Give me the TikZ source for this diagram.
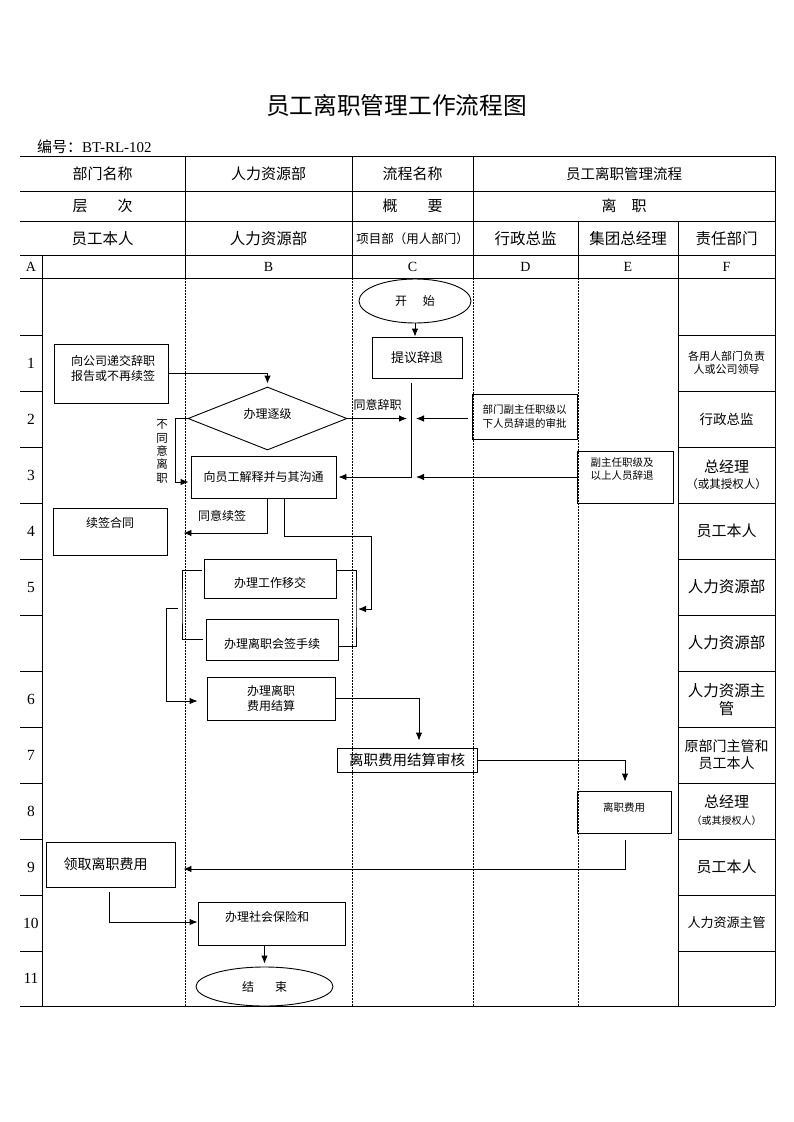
\documentclass[tikz,border=0pt]{standalone}
\usepackage{fontspec}
\setmainfont{Liberation Serif}
\newfontfamily\cjk{Noto Sans CJK SC}
\usetikzlibrary{arrows.meta,shapes.geometric}

\newcommand{\zh}[2]{\fontsize{#1}{#2}\selectfont\cjk}

\begin{document}
\begin{tikzpicture}[x=1pt, y=-1pt, font=\zh{12}{15},
  box/.style={draw, line width=0.9pt, inner sep=0pt, align=center},
  txt/.style={inner sep=0pt, align=center},
  flow/.style={line width=0.9pt, -{Latex[length=8pt, width=6.5pt]}},
  link/.style={line width=0.9pt},
  lane/.style={line width=0.8pt, dash pattern=on 1.5pt off 1.5pt},
  grid/.style={line width=1pt}]
  \fill[white] (0,0) rectangle (793,1122);
  \useasboundingbox (0,0) rectangle (793,1122);

  % title and code
  \node[txt, font=\zh{23.7}{28}] (title) at (396.5,105) {员工离职管理工作流程图};
  \node[txt, anchor=west, font=\fontsize{15}{18}\selectfont] (code) at (37,147) {{\cjk 编号：}BT-RL-102};

  % header table
  \foreach \y in {156,191,221,255,278}
    \draw[grid] (20,\y) -- (775,\y);
  \draw[grid] (185,156) -- (185,278);
  \draw[grid] (352,156) -- (352,278);
  \draw[grid] (473,156) -- (473,278);
  \draw[grid] (578,221) -- (578,278);
  \draw[grid] (42,255) -- (42,1006);
  \draw[grid] (678,221) -- (678,1006);
  \draw[grid] (775,156) -- (775,1006);
  \draw[grid] (20,1006) -- (775,1006);

  \node[txt, font=\zh{15}{18}] (h-dept) at (102.5,173.5) {部门名称};
  \node[txt, font=\zh{15}{18}] (h-hr) at (268.5,173.5) {人力资源部};
  \node[txt, font=\zh{15}{18}] (h-flow) at (412.5,173.5) {流程名称};
  \node[txt, font=\zh{14.5}{18}] (h-name) at (624,173.5) {员工离职管理流程};
  \node[txt, font=\zh{15}{18}] (h-level) at (102.5,206) {层\hspace{2em}次};
  \node[txt, font=\zh{15}{18}] (h-sum) at (412.5,206) {概\hspace{2em}要};
  \node[txt, font=\zh{15}{18}] (h-leave) at (624,206) {离\hspace{1em}职};
  \node[txt, font=\zh{15.5}{18}] (h-self) at (102.5,238.5) {员工本人};
  \node[txt, font=\zh{15.5}{18}] (h-hrdept) at (268.5,238.5) {人力资源部};
  \node[txt, font=\zh{12.5}{15}] (h-proj) at (412.5,238.5) {项目部（用人部门）};
  \node[txt, font=\zh{15.5}{18}] (h-admin) at (525.5,238.5) {行政总监};
  \node[txt, font=\zh{15.5}{18}] (h-gm) at (628,238.5) {集团总经理};
  \node[txt, font=\zh{15.5}{18}] (h-resp) at (726.5,238.5) {责任部门};
  \foreach \c/\x in {A/31,B/268.5,C/412.5,D/525.5,E/628,F/726.5}
    \node[txt, font=\fontsize{14}{16}\selectfont] (col-\c) at (\x,267) {\c};

  % lanes and rows
  \foreach \x in {185,352,473,578}
    \draw[lane] (\x,278) -- (\x,1006);
  \foreach \y in {335,391,447,503,559,615,671,727,783,839,895,951} {
    \draw[grid] (20,\y) -- (42,\y);
    \draw[grid] (678,\y) -- (775,\y);
  }
  \foreach \n/\y in {1/363,2/419,3/475,4/531,5/587,6/699,7/755,8/811,9/867,10/923,11/978.5}
    \node[txt, font=\fontsize{15.5}{18}\selectfont] (row-\n) at (31,\y) {\n};

  % responsible
  \node[txt, font=\zh{11}{13}] (f1) at (726.5,363) {各用人部门负责\\人或公司领导};
  \node[txt, font=\zh{13.5}{16}] (f2) at (726.5,419) {行政总监};
  \node[txt, font=\zh{15}{16}] (f3) at (726.5,475) {总经理\\{\zh{11.5}{16}（或其授权人）}};
  \node[txt, font=\zh{15}{18}] (f4) at (726.5,531) {员工本人};
  \node[txt, font=\zh{15.5}{18}] (f5) at (726.5,587) {人力资源部};
  \node[txt, font=\zh{15.5}{18}] (f6) at (726.5,643) {人力资源部};
  \node[txt, font=\zh{15.5}{18}] (f7) at (726.5,700) {人力资源主\\管};
  \node[txt, font=\zh{14}{17}] (f8) at (726.5,754.5) {原部门主管和\\员工本人};
  \node[txt, font=\zh{15}{17}] (f9) at (726.5,810.5) {总经理\\{\zh{10}{17}（或其授权人）}};
  \node[txt, font=\zh{15}{18}] (f10) at (726.5,867) {员工本人};
  \node[txt, font=\zh{13}{16}] (f11) at (726.5,923) {人力资源主管};

  % flow nodes
  \node[box, ellipse, minimum width=112, minimum height=44] (start) at (415,301) {开\hspace{1.3em}始};
  \node[box, minimum width=90, minimum height=41, font=\zh{13}{16}] (prop) at (417,357.5) {提议辞退};
  \node[box, minimum width=114, minimum height=59,
    label={[txt, xshift=2pt, yshift=5.5pt]center:{向公司递交辞职\\报告或不再续签}}] (submit) at (111,373.5) {};
  \node[box, diamond, aspect=2.5, minimum width=159, minimum height=63,
    label={[txt, yshift=4.5pt]center:办理逐级}] (esc) at (267.5,418.5) {};
  \node[box, minimum width=105, minimum height=45, font=\zh{10.5}{14}] (dapprove) at (524.5,416.5) {部门副主任职级以\\下人员辞退的审批};
  \node[box, minimum width=96, minimum height=52,
    label={[txt, font=\zh{10.5}{13}, xshift=-3pt, yshift=7.5pt]center:{副主任职级及\\以上人员辞退}}] (eapprove) at (625,477) {};
  \node[box, minimum width=145, minimum height=42] (explain) at (263.5,477) {向员工解释并与其沟通};
  \node[box, minimum width=114, minimum height=47,
    label={[txt, yshift=8.5pt]center:续签合同}] (renew) at (110,531.5) {};
  \node[box, minimum width=132, minimum height=39,
    label={[txt, yshift=-4.5pt]center:办理工作移交}] (handover) at (270,578.5) {};
  \node[box, minimum width=132, minimum height=41,
    label={[txt, yshift=-4.5pt]center:办理离职会签手续}] (sign) at (272,639.5) {};
  \node[box, minimum width=128, minimum height=43] (settle) at (271,698.5) {办理离职\\费用结算};
  \node[box, minimum width=140, minimum height=24, font=\zh{14.5}{17}] (audit) at (407,760) {离职费用结算审核};
  \node[box, minimum width=94, minimum height=42,
    label={[txt, font=\zh{10.5}{13}, yshift=5pt]center:离职费用}] (fee) at (624,812) {};
  \node[box, minimum width=129, minimum height=45,
    label={[txt, font=\zh{14}{17}, xshift=-5pt]center:领取离职费用}] (collect) at (110.5,864.5) {};
  \node[box, minimum width=147, minimum height=43,
    label={[txt, xshift=-4.5pt, yshift=6.5pt]center:办理社会保险和}] (social) at (271.5,923.5) {};
  \node[box, ellipse, minimum width=137, minimum height=39] (stop) at (264.5,986.5) {结\hspace{1.75em}束};

  % labels on lines
  \node[txt] (agree) at (377.5,405) {同意辞职};
  \node[txt, font=\zh{11.5}{13.3}] (disagree) at (162,451.5) {不\\同\\意\\离\\职};
  \node[txt] (agree-renew) at (222,516) {同意续签};

  % helper points
  \coordinate (cross) at (411,418.5);
  \coordinate (bend) at (411,477);
  \coordinate (rjog) at (371,536);
  \coordinate (hsjoin) at (356,609);
  \coordinate (ljoin) at (182,608);
  \coordinate (lstub) at (178,608);

  % connectors
  \draw[flow] (start.south) -- (start.south |- prop.north);
  \draw[flow, shorten >=3pt] (submit.east) -| (esc.north);
  \draw[flow, shorten >=4pt] (esc.east) -- (cross);
  \draw[flow, shorten <=4pt, shorten >=5pt] (dapprove.west |- cross) -- (cross);
  \draw[flow, shorten >=2pt] (prop.south -| cross) ++(0,5) -- (bend) -- (explain.east);
  \draw[flow, shorten >=5pt] (eapprove.west) -- (bend);
  \draw[flow, shorten >=2pt] (esc.west) -- ++(-12,0) |- ([yshift=-5pt]explain.west);
  \draw[flow, shorten >=16pt] ([xshift=3.5pt]explain.south) |- ([yshift=-1.5pt]renew.east);
  \draw[flow, shorten >=2pt] ([xshift=20.5pt]explain.south) |- (rjog) |- (hsjoin);
  \draw[link] ([yshift=8.5pt]handover.east) -| (hsjoin) |- ([yshift=-6.5pt]sign.east);
  \draw[link] ([yshift=8.5pt, xshift=-2pt]handover.west) -| (ljoin) |- ([xshift=-3pt]sign.west);
  \draw[flow, shorten >=9pt] (lstub) -- ++(-12,0) |- ([yshift=-2.5pt]settle.west);
  \draw[flow, shorten >=7pt] (settle.east) -| ([xshift=12pt]audit.north);
  \draw[flow, shorten >=9pt] (audit.east) -| ([xshift=1pt]fee.north);
  \draw[flow, shorten >=8pt] ([xshift=1pt, yshift=-7pt]fee.south) |- ([yshift=-4.5pt]collect.east);
  \draw[flow] ([xshift=-1.5pt, yshift=-5pt]collect.south) |- ([yshift=1.5pt]social.west);
  \draw[flow, shorten >=3pt] (social.south -| stop.north) -- (stop.north);
\end{tikzpicture}
\end{document}
